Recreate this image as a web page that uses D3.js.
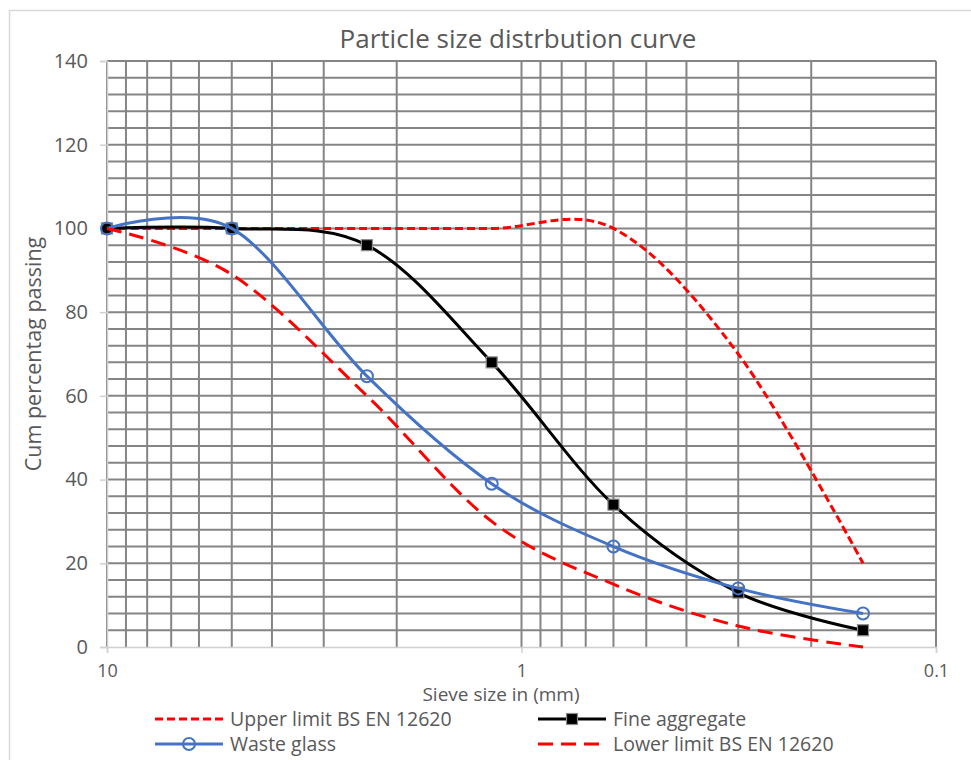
<!DOCTYPE html>
<html>
<head>
<meta charset="utf-8">
<script src="https://cdn.jsdelivr.net/npm/d3@7"></script>
<style>
  body { margin: 0; background: #fff; }
  svg text { font-family: "Open Sans", sans-serif; fill: #595959; }
</style>
</head>
<body>
<svg id="chart" width="971" height="760"></svg>
<script>
// sieve sizes (mm) and cumulative % passing
const sieveSizes = [10, 5, 2.36, 1.18, 0.6, 0.3, 0.15]
const upperLimit = [100, 100, 100, 100, 100, 70, 20]
const fineAggregate = [100, 100, 96, 68, 34, 13, 4]
const wasteGlass = [100, 100, 64.7, 39, 24, 14, 8]
const lowerLimit = [100, 89, 60, 30, 15, 5, 0]

const xTickLabels = [10, 1, 0.1]
const yTicks = [0, 20, 40, 60, 80, 100, 120, 140]

const svg = d3.select('#chart')

// outer chart border
svg.append('rect')
  .attr('x', 9.5).attr('y', 10.5)
  .attr('width', 1000).attr('height', 800)
  .attr('fill', 'none')
  .attr('stroke', '#d9d9d9')
  .attr('stroke-width', 1.5)

const x = d3.scaleLog().domain([10, 0.1]).range([107, 936])
const y = d3.scaleLinear().domain([0, 140]).range([647, 61])

// vertical grid: every 1..9 step of each decade
const xGrid = []
for (const p of [1, 0.1]) {
  for (let k = 1; k <= 9; k++) xGrid.push(k * p)
}
xGrid.push(10)

const grid = svg.append('g').attr('class', 'grid')
grid.selectAll('line.v')
  .data(xGrid)
  .join('line')
  .attr('class', 'v')
  .attr('x1', d => x(d)).attr('x2', d => x(d))
  .attr('y1', y(0)).attr('y2', y(140))
  .attr('stroke', '#858585')
  .attr('stroke-width', 2)

grid.selectAll('line.h')
  .data(d3.range(4, 141, 4))
  .join('line')
  .attr('class', 'h')
  .attr('x1', x(10)).attr('x2', x(0.1))
  .attr('y1', d => y(d)).attr('y2', d => y(d))
  .attr('stroke', '#858585')
  .attr('stroke-width', 2)

// axes
const xAxis = d3.axisBottom(x).tickValues(xTickLabels).tickSize(6).tickFormat(d3.format(''))
const gx = svg.append('g').attr('transform', `translate(0,${y(0)})`).call(xAxis)
gx.select('.domain').attr('stroke', '#d0d0d0').attr('stroke-width', 1.5)
gx.selectAll('.tick line').attr('stroke', '#d0d0d0').attr('stroke-width', 1.5)
gx.selectAll('.tick text')
  .attr('y', 17)
  .style('font-size', '18px')
  .style('font-family', '"Open Sans", sans-serif')
  .attr('fill', '#595959')

const yAxis = d3.axisLeft(y).tickValues(yTicks).tickSize(7).tickPadding(12)
const gy = svg.append('g').attr('transform', `translate(${x(10)},0)`).call(yAxis)
gy.select('.domain').attr('stroke', '#d0d0d0').attr('stroke-width', 1.5)
gy.selectAll('.tick line').attr('stroke', '#d0d0d0').attr('stroke-width', 1.5)
gy.selectAll('.tick text')
  .style('font-size', '20px')
  .style('font-family', '"Open Sans", sans-serif')
  .attr('fill', '#595959')

// series
const series = [
  { name: 'Upper limit BS EN 12620', values: upperLimit, color: '#ff0000', dash: '8,4', marker: null },
  { name: 'Fine aggregate', values: fineAggregate, color: '#000000', dash: null, marker: 'square' },
  { name: 'Waste glass', values: wasteGlass, color: '#4472c4', dash: null, marker: 'circle' },
  { name: 'Lower limit BS EN 12620', values: lowerLimit, color: '#ff0000', dash: '15,8', marker: null }
]

const line = d3.line()
  .x(d => x(d[0]))
  .y(d => y(d[1]))
  .curve(d3.curveCardinal.tension(0))

function drawMarker (g, type, color) {
  if (type === 'square') {
    g.append('rect')
      .attr('x', -5.5).attr('y', -5.5)
      .attr('width', 11).attr('height', 11)
      .attr('fill', '#000')
      .attr('stroke', '#8c8c8c')
      .attr('stroke-width', 1.2)
  } else if (type === 'circle') {
    g.append('circle')
      .attr('r', 6)
      .attr('fill', 'none')
      .attr('stroke', color)
      .attr('stroke-width', 2)
  }
}

const plot = svg.append('g').attr('class', 'series')
series.forEach(s => {
  const pts = sieveSizes.map((sz, i) => [sz, s.values[i]])
  const g = plot.append('g')
  g.append('path')
    .attr('d', line(pts))
    .attr('fill', 'none')
    .attr('stroke', s.color)
    .attr('stroke-width', 3)
    .attr('stroke-dasharray', s.dash)
  if (s.marker) {
    g.selectAll('g.m')
      .data(pts)
      .join('g')
      .attr('class', 'm')
      .attr('transform', d => `translate(${x(d[0])},${y(d[1])})`)
      .each(function () { drawMarker(d3.select(this), s.marker, s.color) })
  }
})

// titles
svg.append('text')
  .attr('x', 518).attr('y', 48)
  .attr('text-anchor', 'middle')
  .style('font-size', '26px')
  .text('Particle size distrbution curve')

svg.append('text')
  .attr('x', 501).attr('y', 701)
  .attr('text-anchor', 'middle')
  .style('font-size', '19px')
  .text('Sieve size in (mm)')

svg.append('text')
  .attr('transform', 'translate(41,354) rotate(-90)')
  .attr('text-anchor', 'middle')
  .style('font-size', '21.5px')
  .text('Cum percentag passing')

// legend, two columns
const legendPos = [
  { x: 155, y: 719 },
  { x: 538, y: 719 },
  { x: 155, y: 744 },
  { x: 538, y: 744 }
]
const legend = svg.append('g').attr('class', 'legend')
series.forEach((s, i) => {
  const p = legendPos[i]
  const g = legend.append('g').attr('transform', `translate(${p.x},${p.y})`)
  g.append('line')
    .attr('x1', 0).attr('x2', 68)
    .attr('stroke', s.color)
    .attr('stroke-width', 3)
    .attr('stroke-dasharray', s.dash)
  if (s.marker) {
    const m = g.append('g').attr('transform', 'translate(34,0)')
    drawMarker(m, s.marker, s.color)
  }
  g.append('text')
    .attr('x', 75).attr('y', 7)
    .style('font-size', '19.5px')
    .text(s.name)
})
</script>
</body>
</html>
